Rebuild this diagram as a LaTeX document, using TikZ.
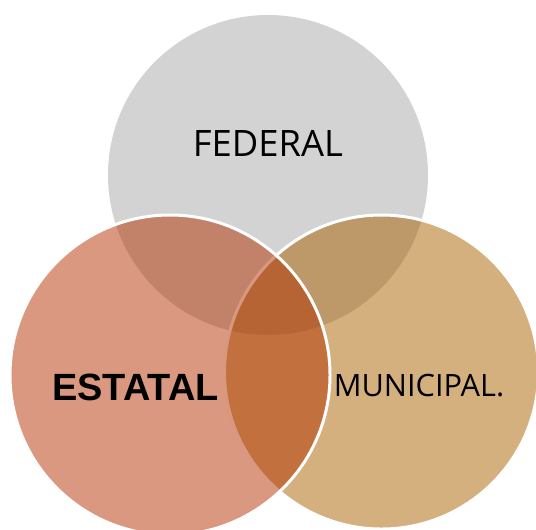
\documentclass[tikz,border=0pt]{standalone}
\usepackage{fontspec}
\setmainfont{Open Sans}
\newfontfamily\arialfont{Liberation Sans}
\usetikzlibrary{calc}

\definecolor{federalgray}{RGB}{211,211,211}
\definecolor{estatalred}{RGB}{179,49,0}
\definecolor{municipaltan}{RGB}{169,97,0}

\tikzset{
	set circle/.style = {fill opacity = 0.5, draw = white, line width = 1.7pt},
}

\begin{document}
\begin{tikzpicture}
		\def\r{3.2};
		\def\rr{3.14};
		
		\useasboundingbox (0,0) rectangle (10.72,10.58);
		
		\coordinate (federal centre) at (5.36,7.08);
		\coordinate (estatal centre) at (3.4,3.08);
		\coordinate (municipal centre) at (7.63,3.14);
		
		\begin{scope}
			\clip (0,0) rectangle (10.72,10.58);
			\fill [federalgray] (federal centre) circle [radius = \r];
			\filldraw [set circle, fill = municipaltan] (municipal centre) circle [radius = \rr];
			\filldraw [set circle, fill = estatalred] (estatal centre) circle [radius = \r];
		\end{scope}
		
		%labels
		\node (federal) at (5.36,7.72) {\fontsize{20.7}{24}\selectfont FEDERAL};
		\node (estatal) at (2.71,2.84) {\arialfont\bfseries\fontsize{21.6}{25}\selectfont ESTATAL};
		\node (municipal) at (8.38,2.86) {\fontsize{17.5}{21}\selectfont MUNICIPAL.};
	\end{tikzpicture}
\end{document}
